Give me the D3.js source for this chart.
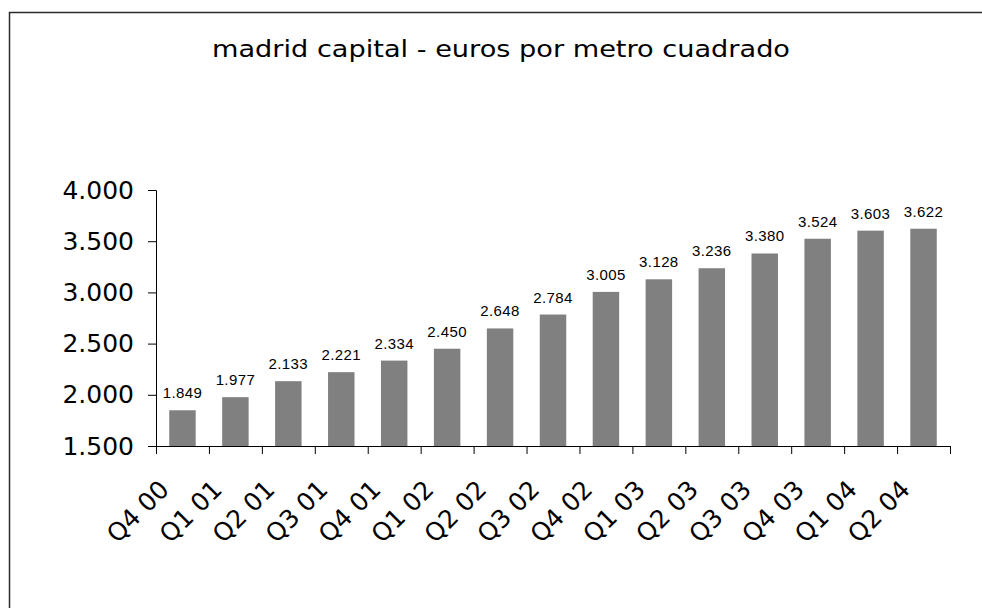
<!DOCTYPE html>
<html>
<head>
<meta charset="utf-8">
<script src="https://cdn.jsdelivr.net/npm/d3@7"></script>
<style>
    body { margin: 0; background: #fff; }
    svg { display: block; }
</style>
</head>
<body>
<svg width="982" height="608"></svg>
<script>
const quarters = ["Q4 00", "Q1 01", "Q2 01", "Q3 01", "Q4 01", "Q1 02", "Q2 02", "Q3 02",
    "Q4 02", "Q1 03", "Q2 03", "Q3 03", "Q4 03", "Q1 04", "Q2 04"]
const prices = [1849, 1977, 2133, 2221, 2334, 2450, 2648, 2784, 3005, 3128, 3236, 3380, 3524, 3603, 3622]
const yTicks = [1500, 2000, 2500, 3000, 3500, 4000]
const title = "madrid capital - euros por metro cuadrado"

const fmt = d => d3.format(",")(d).replace(/,/g, ".")

function drawChart(){
    const svg = d3.select("svg")

    // outer frame, runs off the right and bottom edges
    svg.append("rect")
        .attr("x", 9.5)
        .attr("y", 12.5)
        .attr("width", 1000)
        .attr("height", 640)
        .style("fill", "none")
        .style("stroke", "#2b2b2b")
        .style("stroke-width", 1.5)

    svg.append("text")
        .text(title)
        .attr("x", 501)
        .attr("y", 57)
        .attr("textLength", 578)
        .attr("lengthAdjust", "spacingAndGlyphs")
        .style("text-anchor", "middle")
        .style("font-family", "DejaVu Sans, Verdana, sans-serif")
        .style("font-size", "23px")
        .style("fill", "#000")

    const x = d3.scaleBand().domain(quarters).range([156, 950]).padding(0.5).paddingOuter(0.25)
    const y = d3.scaleLinear().domain([1500, 4000]).range([446, 190])

    const yAxis = d3.axisLeft(y).tickValues(yTicks).tickFormat(fmt).tickSize(8).tickPadding(14)
    const yG = svg.append("g")
        .attr("transform", "translate(156, 0)")
        .call(yAxis)
    yG.selectAll("text")
        .style("font-family", "DejaVu Sans, Verdana, sans-serif")
        .style("font-size", "25px")
        .style("fill", "#000")

    svg.append("g")
        .attr("id", "barsG")
        .selectAll("rect.bar")
        .data(prices)
        .enter()
        .append("rect")
        .attr("class", "bar")
        .attr("x", (d, i) => x(quarters[i]))
        .attr("width", x.bandwidth())
        .attr("y", d => y(d))
        .attr("height", d => y(1500) - y(d))
        .style("fill", "#808080")

    svg.append("g")
        .attr("id", "labelsG")
        .selectAll("text.value")
        .data(prices)
        .enter()
        .append("text")
        .attr("class", "value")
        .text(d => fmt(d))
        .attr("x", (d, i) => x(quarters[i]) + x.bandwidth() / 2)
        .attr("y", d => y(d) - 12)
        .style("text-anchor", "middle")
        .style("font-family", "Liberation Sans, Arial, sans-serif")
        .style("font-size", "15px")
        .style("letter-spacing", "0.4px")
        .style("fill", "#000")

    // x axis with ticks between the categories
    const xAxis = d3.axisBottom(d3.scaleLinear().domain([0, quarters.length]).range([156, 950]))
        .ticks(quarters.length)
        .tickFormat("")
        .tickSize(8)
        .tickSizeOuter(8)
    svg.append("g")
        .attr("transform", "translate(0, 446)")
        .call(xAxis)

    svg.append("g")
        .attr("id", "xLabelsG")
        .selectAll("text.cat")
        .data(quarters)
        .enter()
        .append("text")
        .attr("class", "cat")
        .text(d => d)
        .attr("transform", d => `translate(${x(d) + x.bandwidth() / 2 - 12}, 491) rotate(-45)`)
        .style("text-anchor", "end")
        .style("font-family", "DejaVu Sans, Verdana, sans-serif")
        .style("font-size", "25px")
        .style("fill", "#000")

    svg.selectAll(".domain").style("stroke", "#000")
    svg.selectAll(".tick line").style("stroke", "#000")
}

drawChart()
</script>
</body>
</html>
